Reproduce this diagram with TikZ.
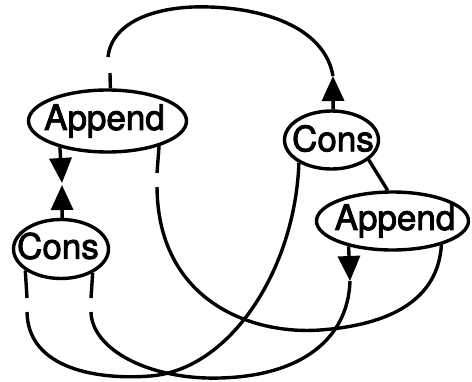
\documentclass[tikz,border=0pt]{standalone}
\usepackage{fontspec}
\setmainfont{TeX Gyre Heros}
\newfontfamily\labfont[FakeBold=2.5]{TeX Gyre Heros}
\usetikzlibrary{arrows.meta,shapes.geometric}
\begin{document}
\begin{tikzpicture}[x=1pt,y=-1pt,line width=3.4pt,
  ell/.style={draw,ellipse,inner sep=0pt,line width=3.4pt},
  lab/.style={font=\labfont\fontsize{35}{40}\selectfont,inner sep=0pt},
  tipar/.style={-{Triangle[length=25pt,width=22pt]}}]
\useasboundingbox (0,0) rectangle (472,381);
% nodes
\node[ell,minimum width=158pt,minimum height=62pt,
      label={[lab,xshift=-3pt]center:Append}] (a1) at (107.5,121) {};
\node[ell,minimum width=95pt,minimum height=59pt,
      label={[lab,xshift=-3pt,yshift=3pt]center:Cons}] (c1) at (61,249) {};
\node[ell,minimum width=94pt,minimum height=58pt,
      label={[lab,xshift=1.5pt,yshift=1.5pt]center:Cons}] (c2) at (331.5,140) {};
\node[ell,minimum width=152pt,minimum height=58pt,
      label={[lab,xshift=2.5pt]center:Append}] (a2) at (392.5,221) {};
% helper coordinates
\coordinate (s1) at (110,73);
\coordinate (g1) at (108,57);
\coordinate (c2tip) at (333,76);
\coordinate (a1tip) at (62,183);
\coordinate (c1tip) at (62,185);
\coordinate (s2) at (157,173);
\coordinate (g2) at (157,187);
\coordinate (s3) at (27,298);
\coordinate (g3) at (27,312);
\coordinate (s4) at (91,298);
\coordinate (g4) at (91,312);
\coordinate (a2tip) at (350,281);
% top arc: Append1 -> Cons2
\draw (a1.85) -- (s1);
\draw (g1) .. controls (112,20) and (160,5) .. (210,7)
           .. controls (270,9) and (325,30) .. (c2tip);
\draw[tipar] (c2.87) -- (c2tip);
% bowtie between Append1 and Cons1
\draw[tipar] (a1.209) -- (a1tip);
\draw[tipar] (c1.88) -- (c1tip);
% Append1 right -> Append2 bottom right
\draw (a1.334) -- (s2);
\draw (g2) .. controls (158,300) and (250,335) .. (320,330)
           .. controls (390,325) and (438,300) .. (a2.334);
% Cons1 left -> Cons2 bottom left
\draw (c1.211) -- (s3);
\draw (g3) .. controls (28,370) and (100,380) .. (150,376)
           .. controls (230,370) and (295,270) .. (c2.215);
% Cons1 right -> Append2 arrow
\draw (c1.323) -- (s4);
\draw (g4) .. controls (92,350) and (150,380) .. (220,378)
           .. controls (300,376) and (348,340) .. (a2tip);
\draw[tipar] (a2.210) -- (a2tip);
% Cons2 -> Append2 top
\draw (c2.332) -- (a2.99);
\end{tikzpicture}
\end{document}
